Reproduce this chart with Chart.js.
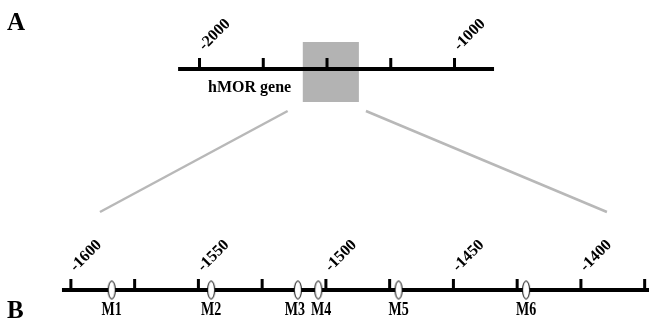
<!DOCTYPE html>
<html>
<head>
<meta charset="utf-8">
<script src="https://cdn.jsdelivr.net/npm/chart.js@4.4.1/dist/chart.umd.min.js"></script>
<style>
  html, body { margin: 0; padding: 0; background: #fff; }
  #wrap { width: 649px; height: 322px; position: relative; }
</style>
</head>
<body>
<div id="wrap"><canvas id="c"></canvas></div>
<script>
// upper track: hMOR gene, positions relative to the start site
const geneSpan = [-2084, -845];
const geneTicks = [-2000, -1750, -1500, -1250, -1000];
const geneTickLabels = ['-2000', '', '', '', '-1000'];
const zoomWindow = [-1595, -1375];

// lower track: enlarged promoter region with the six motifs
const detailSpan = [-1603.5, -1373];
const detailTicks = [-1600, -1575, -1550, -1525, -1500, -1475, -1450, -1425, -1400, -1375];
const detailTickLabels = ['-1600', '', '-1550', '', '-1500', '', '-1450', '', '-1400', ''];
const motifNames = ['M1', 'M2', 'M3', 'M4', 'M5', 'M6'];
const motifPositions = [-1584, -1545, -1511, -1503, -1471.5, -1421.5];

// grey guide lines from the window down to the lower track (lower-track units)
const guideLeft = [-1515, -1588.6];
const guideRight = [-1484.3, -1389.8];
const guideLevels = [0.81, 0.353];

const GENE_Y = 1;
const DETAIL_Y = 0;
const FONT = '"Liberation Serif", "Times New Roman", serif';
// M3 and M4 sit close together, their names are pushed apart a little
const nameNudge = [0, 0, -3, 3, 0, 0];

function makeOval() {
  const cv = document.createElement('canvas');
  cv.width = 10; cv.height = 21;
  const g = cv.getContext('2d');
  g.beginPath();
  g.ellipse(5, 10.5, 3.5, 9, 0, 0, Math.PI * 2);
  g.fillStyle = '#fff';
  g.fill();
  g.lineWidth = 1;
  g.strokeStyle = '#000';
  g.stroke();
  return cv;
}

function drawTicks(ctx, scale, yPix, ticks, labels) {
  ctx.fillStyle = '#000';
  ticks.forEach((t, i) => {
    const x = scale.getPixelForValue(t);
    ctx.fillRect(x - 1.5, yPix - 10, 3, 10);
    if (!labels[i]) return;
    ctx.save();
    ctx.translate(x + 2, yPix - 20);
    ctx.rotate(-Math.PI / 4);
    ctx.font = 'bold 16px ' + FONT;
    ctx.textAlign = 'left';
    ctx.textBaseline = 'middle';
    ctx.fillText(labels[i], 0, 0);
    ctx.restore();
  });
}

const figurePlugin = {
  id: 'figure',
  beforeDatasetsDraw(chart) {
    const { ctx, scales } = chart;
    const x0 = scales.x2.getPixelForValue(zoomWindow[0]);
    const x1 = scales.x2.getPixelForValue(zoomWindow[1]);
    const yG = scales.y.getPixelForValue(GENE_Y);
    ctx.save();
    ctx.fillStyle = '#b3b3b3';
    ctx.fillRect(x0, yG - 27, x1 - x0, 60);
    ctx.restore();
  },
  afterDatasetsDraw(chart) {
    const { ctx, scales } = chart;
    const yG = scales.y.getPixelForValue(GENE_Y);
    const yD = scales.y.getPixelForValue(DETAIL_Y);
    ctx.save();
    drawTicks(ctx, scales.x2, yG - 1, geneTicks, geneTickLabels);
    drawTicks(ctx, scales.x, yD - 1, detailTicks, detailTickLabels);

    ctx.fillStyle = '#000';
    ctx.font = 'bold 16px ' + FONT;
    ctx.textAlign = 'left';
    ctx.textBaseline = 'alphabetic';
    ctx.fillText('hMOR gene', scales.x2.getPixelForValue(geneSpan[0]) + 30, yG + 23);

    // motif names are set narrow in the original
    ctx.font = 'bold 18px ' + FONT;
    ctx.textAlign = 'center';
    motifNames.forEach((m, i) => {
      const x = scales.x.getPixelForValue(motifPositions[i]) + nameNudge[i];
      ctx.save();
      ctx.translate(x, yD + 25);
      ctx.scale(0.78, 1);
      ctx.fillText(m, 0, 0);
      ctx.restore();
    });

    ctx.font = 'bold 25px ' + FONT;
    ctx.textAlign = 'left';
    ctx.fillText('A', 7, 30);
    ctx.fillText('B', 7, 318);
    ctx.restore();
  }
};

const line = (data, axis, color, width, order) => ({
  data, xAxisID: axis, yAxisID: 'y', showLine: true,
  borderColor: color, borderWidth: width, pointRadius: 0, order
});

new Chart(document.getElementById('c'), {
  type: 'scatter',
  data: {
    datasets: [
      {
        data: motifPositions.map(v => ({ x: v, y: DETAIL_Y })),
        xAxisID: 'x', yAxisID: 'y',
        pointStyle: makeOval(), pointRadius: 5, order: 0
      },
      line(detailSpan.map(v => ({ x: v, y: DETAIL_Y })), 'x', '#000', 4, 1),
      line(geneSpan.map(v => ({ x: v, y: GENE_Y })), 'x2', '#000', 4, 1),
      line(guideLeft.map((v, i) => ({ x: v, y: guideLevels[i] })), 'x', '#b8b8b8', 2.5, 2),
      line(guideRight.map((v, i) => ({ x: v, y: guideLevels[i] })), 'x', '#b8b8b8', 2.5, 2)
    ]
  },
  options: {
    responsive: true,
    maintainAspectRatio: false,
    animation: false,
    layout: { padding: 0, autoPadding: false },
    plugins: { legend: { display: false }, tooltip: { enabled: false } },
    scales: {
      x: { type: 'linear', display: false, min: -1627.8, max: -1373.3 },
      x2: { type: 'linear', display: false, min: -2782.4, max: -237.3 },
      y: { type: 'linear', display: false, min: -0.1448, max: 1.3122 }
    }
  },
  plugins: [figurePlugin]
});
</script>
</body>
</html>
